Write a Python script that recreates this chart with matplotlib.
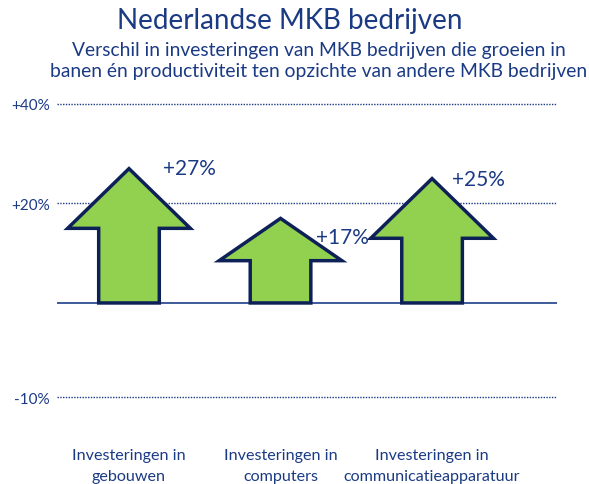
import numpy as np
import matplotlib
matplotlib.use('Agg')
import matplotlib.pyplot as plt
from matplotlib.patches import Polygon

plt.rcParams['font.family'] = ['Lato', 'DejaVu Sans']

# data
categories = ['Investeringen in\ngebouwen', 'Investeringen in\ncomputers',
              'Investeringen in\ncommunicatieapparatuur']
values = [27, 17, 25]
value_labels = ['+27%', '+17%', '+25%']
ytick_values = [-10, 20, 40]
ytick_labels = ['-10%', '+20%', '+40%']

navy = '#1b3a84'
outline = '#0d2158'
green = '#92d050'

# y-as: negatief deel is in het origineel uitgerekt
def fwd(y):
    y = np.asarray(y, dtype=float)
    return np.where(y >= 0, y, 1.9 * y)

def inv(y):
    y = np.asarray(y, dtype=float)
    return np.where(y >= 0, y, y / 1.9)

fig = plt.figure(figsize=(5.89, 4.85), dpi=100)
ax = fig.add_axes([0.0968, 0.1394, 0.849, 0.6647])
ax.set_yscale('function', functions=(fwd, inv))
ax.set_xlim(-0.475, 2.825)
ax.set_ylim(-12, 42)

for s in ax.spines.values():
    s.set_visible(False)

for t in ytick_values:
    ax.axhline(t, color=navy, lw=1.0, ls=(0, (1, 1)), zorder=1)
ax.axhline(0, color='#3d5a99', lw=1.4, zorder=1)

shaft_w = 0.40
head_w = 0.81
label_offsets = [(34, 1), (35, -19), (20, 0)]  # pixels

for i, v in enumerate(values):
    head_len = min(12, v / 2)
    pts = [(i - shaft_w / 2, 0), (i - shaft_w / 2, v - head_len),
           (i - head_w / 2, v - head_len), (i, v),
           (i + head_w / 2, v - head_len), (i + shaft_w / 2, v - head_len),
           (i + shaft_w / 2, 0)]
    ax.add_patch(Polygon(pts, closed=True, facecolor=green, edgecolor=outline,
                         lw=2.5, joinstyle='miter', zorder=3))
    dx, dy = label_offsets[i]
    ax.annotate(value_labels[i], xy=(i, v), xytext=(dx * 0.72, dy * 0.72),
                textcoords='offset points', ha='left', va='center',
                fontsize=15, color=navy, zorder=4)

ax.set_yticks(ytick_values)
ax.set_yticklabels(ytick_labels)
ax.set_xticks(range(len(categories)))
ax.set_xticklabels(categories, linespacing=1.6)
ax.tick_params(axis='y', length=0, pad=5, labelsize=11, labelcolor=navy)
ax.tick_params(axis='x', length=0, pad=23, labelsize=11.6, labelcolor=navy)

fig.text(0.4925, 1 - 21 / 485, 'Nederlandse MKB bedrijven', ha='center',
         va='center', fontsize=20, color=navy)
fig.text(0.541, 1 - 61 / 485,
         'Verschil in investeringen van MKB bedrijven die groeien in\n'
         'banen én productiviteit ten opzichte van andere MKB bedrijven',
         ha='center', va='center', fontsize=13.9, color=navy,
         multialignment='center', linespacing=1.3)

fig.savefig('out.png', dpi=100)
